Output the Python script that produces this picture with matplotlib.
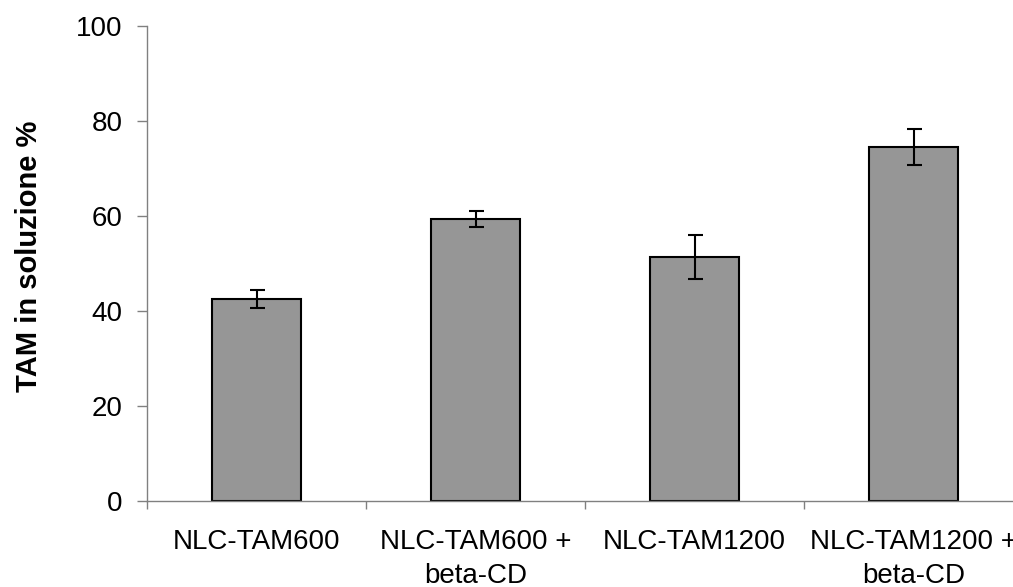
import matplotlib
matplotlib.use("Agg")
import matplotlib.pyplot as plt
import numpy as np

categories = ["NLC-TAM600", "NLC-TAM600 +\nbeta-CD", "NLC-TAM1200", "NLC-TAM1200 +\nbeta-CD"]
values = [42.5, 59.4, 51.4, 74.5]
errors = [1.9, 1.7, 4.6, 3.8]
y_ticks = [0, 20, 40, 60, 80, 100]
y_label = "TAM in soluzione %"

plt.rcParams["font.family"] = ["Liberation Sans", "DejaVu Sans"]

W, H = 1013, 587
fig = plt.figure(figsize=(W / 100, H / 100), dpi=100)
left, right, bottom, top = 147, 1023, 501, 26
ax = fig.add_axes([left / W, 1 - bottom / H, (right - left) / W, (bottom - top) / H])

x = np.arange(len(categories))
ax.bar(x, values, width=0.41, color="#969696", edgecolor="black", linewidth=1.5, zorder=2)
ax.errorbar(x, values, yerr=errors, fmt="none", ecolor="black", elinewidth=1.5,
            capsize=5.4, capthick=1.5, zorder=3)

ax.set_xlim(-0.5, len(categories) - 0.5)
ax.set_ylim(0, 100)

axis_grey = "#808080"
for side in ("top", "right"):
    ax.spines[side].set_visible(False)
for side in ("left", "bottom"):
    ax.spines[side].set_color(axis_grey)
    ax.spines[side].set_linewidth(1.0)

ax.set_yticks(y_ticks)
ax.set_yticklabels([str(v) for v in y_ticks])
ax.tick_params(axis="y", direction="out", length=7.2, width=1.0, color=axis_grey,
               labelsize=20, pad=10.5)

# Category ticks sit between the bars; labels centred under each bar
ax.set_xticks(np.arange(len(categories) + 1) - 0.5)
ax.set_xticklabels([])
ax.tick_params(axis="x", which="major", direction="out", length=5.8, width=1.0, color=axis_grey)
ax.set_xticks(x, minor=True)
ax.set_xticklabels(categories, minor=True, fontsize=20, linespacing=1.4)
ax.tick_params(axis="x", which="minor", length=0, pad=20)

ax.set_ylabel(y_label, fontsize=21, fontweight="bold")
ax.yaxis.label.set_va("center")
ax.yaxis.set_label_coords((29 - left) / (right - left), (bottom - 256.5) / (bottom - top))

fig.savefig("out.png", dpi=100)
